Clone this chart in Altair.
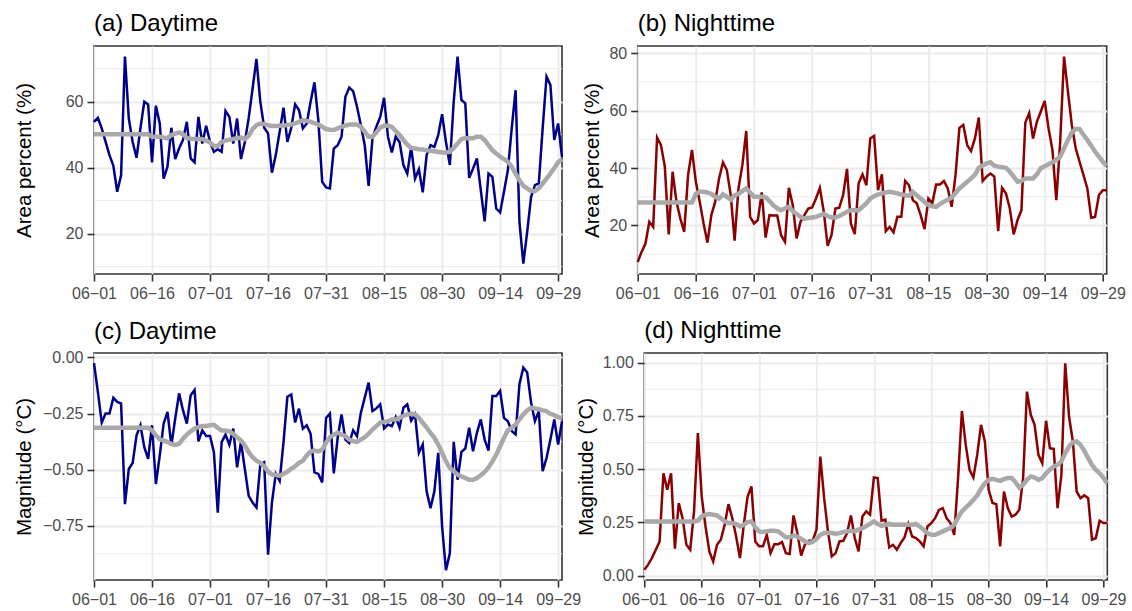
import altair as alt
import pandas as pd

# ---------------- data ----------------
START = "2021-06-01"
N_DAYS = 122
X_TICKS = [(6, 1), (6, 16), (7, 1), (7, 16), (7, 31), (8, 15), (8, 30), (9, 14), (9, 29)]
X_DOMAIN = [(6, 1), (9, 30)]

A_DAY = [53.9, 55.1, 51.9, 47.8, 43.8, 40.6, 32.7, 37.7, 73.7, 54.9,
         47.8, 43.0, 51.9, 60.0, 59.2, 41.6, 58.8, 53.4, 36.7, 40.3,
         52.1, 42.6, 45.8, 48.4, 53.9, 42.8, 41.6, 55.4, 47.3, 52.7,
         47.8, 44.8, 45.6, 44.8, 57.2, 55.4, 47.3, 54.9, 42.6, 47.8,
         55.1, 64.0, 73.0, 60.0, 52.1, 50.4, 38.5, 43.8, 50.9, 58.2,
         47.8, 52.1, 59.2, 57.5, 51.9, 53.4, 60.0, 65.9, 54.4, 35.7,
         34.0, 33.7, 45.8, 46.8, 49.4, 61.5, 64.3, 63.2, 58.5, 52.9,
         46.8, 34.5, 48.9, 52.4, 55.4, 61.2, 49.4, 44.6, 49.4, 47.8,
         40.8, 38.2, 46.3, 36.7, 39.5, 32.5, 43.8, 46.8, 46.3, 49.9,
         56.2, 47.8, 40.8, 60.0, 73.7, 60.5, 59.5, 36.9, 39.7, 42.8,
         33.2, 23.7, 38.2, 37.2, 27.6, 26.4, 32.7, 39.2, 51.9, 63.5,
         23.5, 10.9, 20.5, 31.1, 34.7, 35.2, 51.9, 67.6, 65.1, 48.4,
         53.4, 43.3]
A_SMOOTH = [50.1, 50.1, 50.1, 50.1, 50.1, 50.1, 50.1, 50.1, 50.1, 50.1,
            50.1, 50.1, 50.1, 50.1, 50.1, 49.4, 49.4, 49.4, 49.1, 48.9,
            49.9, 50.3, 50.7, 50.1, 49.0, 48.8, 48.7, 48.7, 48.7, 48.2,
            47.6, 46.6, 46.6, 47.8, 48.2, 48.5, 48.7, 48.9, 49.1, 48.7,
            49.7, 51.7, 52.9, 53.4, 53.2, 52.9, 52.6, 52.6, 52.7, 52.8,
            52.9, 53.1, 53.4, 53.9, 54.4, 54.2, 53.9, 53.5, 53.1, 52.4,
            51.7, 51.5, 51.4, 51.9, 52.4, 52.8, 53.1, 53.1, 53.1, 52.4,
            50.9, 49.4, 49.4, 50.7, 52.1, 52.7, 52.7, 52.4, 51.1, 49.9,
            48.4, 47.0, 46.0, 45.8, 45.6, 45.5, 45.3, 45.1, 45.0, 44.8,
            44.6, 44.6, 44.8, 46.0, 47.3, 48.7, 48.9, 48.9, 48.9, 49.4,
            49.4, 48.4, 46.8, 45.3, 44.3, 43.3, 42.6, 41.8, 40.3, 38.2,
            36.2, 34.5, 33.7, 32.9, 32.9, 33.7, 35.2, 36.7, 38.2, 39.9,
            41.6, 42.6]

B_NIGHT = [7.3, 10.8, 13.7, 21.3, 19.5, 50.6, 48.0, 40.5, 16.9, 38.7,
           28.3, 22.4, 17.8, 37.6, 46.3, 35.2, 28.3, 20.7, 14.0, 23.6,
           28.3, 36.4, 42.0, 39.3, 30.6, 14.7, 32.9, 41.0, 52.9, 23.0,
           20.7, 21.9, 31.5, 15.8, 23.6, 23.5, 23.5, 16.6, 14.3, 33.1,
           27.1, 15.5, 21.3, 23.6, 25.9, 26.3, 29.4, 33.1, 24.8, 12.9,
           16.6, 25.9, 26.2, 30.6, 39.7, 20.7, 17.0, 34.7, 37.8, 34.0,
           50.3, 51.2, 32.3, 37.8, 18.0, 19.5, 17.6, 23.0, 23.0, 35.5,
           34.0, 28.8, 27.7, 23.6, 18.7, 29.4, 27.7, 34.3, 34.3, 35.5,
           32.9, 26.5, 37.6, 54.0, 55.0, 48.0, 45.9, 50.3, 57.6, 35.5,
           37.0, 38.1, 37.0, 18.0, 33.1, 31.2, 25.9, 16.9, 21.9, 25.3,
           55.8, 59.1, 50.3, 56.2, 59.7, 63.4, 53.8, 46.3, 28.8, 49.2,
           78.8, 66.6, 55.0, 46.9, 42.2, 37.6, 32.9, 22.7, 23.0, 30.6,
           32.3, 32.3]
B_SMOOTH = [28.0, 28.0, 28.0, 28.0, 28.0, 28.0, 28.0, 28.0, 28.0, 28.0,
            28.0, 28.0, 28.0, 28.0, 28.0, 31.0, 31.7, 31.7, 31.5, 31.0,
            30.0, 29.4, 30.8, 30.0, 29.0, 30.5, 31.0, 32.0, 32.9, 31.5,
            30.0, 30.0, 30.0, 29.8, 28.5, 27.0, 26.0, 25.3, 26.0, 26.5,
            25.0, 24.0, 23.0, 22.4, 22.6, 22.8, 23.0, 23.5, 24.0, 23.3,
            22.8, 22.8, 23.3, 24.0, 24.8, 25.3, 25.3, 25.3, 26.5, 27.7,
            29.4, 30.2, 30.8, 31.2, 31.5, 31.7, 31.5, 31.2, 30.8, 30.5,
            30.3, 31.7, 30.5, 29.4, 28.2, 27.1, 26.7, 26.5, 27.4, 28.3,
            29.0, 29.7, 31.3, 32.9, 34.0, 35.2, 36.4, 37.6, 40.1, 40.9,
            41.6, 42.0, 40.8, 40.5, 40.3, 40.1, 38.7, 37.0, 35.2, 35.5,
            36.4, 36.4, 36.4, 37.8, 39.9, 40.6, 41.3, 42.0, 42.8, 44.0,
            46.9, 49.8, 52.4, 53.6, 53.6, 51.5, 49.8, 47.8, 45.7, 44.0,
            42.2, 40.8]

C_DAY = [-0.025, -0.153, -0.29, -0.25, -0.25, -0.18, -0.198, -0.205, -0.654, -0.497,
         -0.47, -0.347, -0.302, -0.40, -0.452, -0.302, -0.564, -0.437, -0.295, -0.243,
         -0.392, -0.272, -0.16, -0.235, -0.295, -0.168, -0.145, -0.374, -0.325, -0.35,
         -0.35, -0.422, -0.692, -0.377, -0.344, -0.389, -0.317, -0.49, -0.377, -0.497,
         -0.617, -0.647, -0.669, -0.475, -0.467, -0.879, -0.647, -0.519, -0.55, -0.377,
         -0.175, -0.165, -0.29, -0.228, -0.317, -0.302, -0.34, -0.512, -0.519, -0.557,
         -0.27, -0.25, -0.517, -0.358, -0.254, -0.366, -0.381, -0.325, -0.351, -0.246,
         -0.179, -0.112, -0.239, -0.227, -0.209, -0.316, -0.299, -0.306, -0.266, -0.313,
         -0.224, -0.209, -0.281, -0.254, -0.425, -0.388, -0.597, -0.672, -0.597, -0.425,
         -0.754, -0.948, -0.873, -0.376, -0.545, -0.421, -0.406, -0.313, -0.418, -0.336,
         -0.276, -0.366, -0.415, -0.172, -0.172, -0.149, -0.269, -0.284, -0.328, -0.343,
         -0.119, -0.045, -0.067, -0.201, -0.284, -0.239, -0.507, -0.448, -0.366, -0.276,
         -0.388, -0.284]
C_SMOOTH = [-0.313, -0.313, -0.313, -0.313, -0.313, -0.313, -0.313, -0.313, -0.313, -0.313,
            -0.313, -0.313, -0.313, -0.313, -0.313, -0.325, -0.347, -0.365, -0.37, -0.377,
            -0.385, -0.39, -0.385, -0.362, -0.344, -0.329, -0.317, -0.31, -0.305, -0.305,
            -0.302, -0.30, -0.314, -0.325, -0.325, -0.329, -0.34, -0.355, -0.37, -0.392,
            -0.422, -0.445, -0.46, -0.47, -0.485, -0.509, -0.522, -0.524, -0.527, -0.519,
            -0.509, -0.497, -0.485, -0.47, -0.46, -0.437, -0.419, -0.415, -0.419, -0.41,
            -0.38, -0.355, -0.345, -0.335, -0.343, -0.351, -0.366, -0.373, -0.376, -0.366,
            -0.355, -0.34, -0.321, -0.306, -0.29, -0.287, -0.284, -0.276, -0.276, -0.269,
            -0.261, -0.254, -0.251, -0.254, -0.269, -0.291, -0.313, -0.336, -0.358, -0.388,
            -0.425, -0.463, -0.493, -0.507, -0.522, -0.53, -0.537, -0.545, -0.545, -0.537,
            -0.525, -0.51, -0.49, -0.463, -0.433, -0.396, -0.358, -0.325, -0.313, -0.299,
            -0.276, -0.254, -0.236, -0.224, -0.227, -0.231, -0.236, -0.239, -0.251, -0.257,
            -0.266, -0.272]

D_NIGHT = [0.028, 0.052, 0.083, 0.122, 0.161, 0.481, 0.403, 0.481, 0.127, 0.341,
           0.27, 0.145, 0.122, 0.302, 0.669, 0.372, 0.231, 0.114, 0.067, 0.145,
           0.169, 0.239, 0.336, 0.27, 0.184, 0.083, 0.239, 0.372, 0.419, 0.161,
           0.138, 0.138, 0.192, 0.106, 0.148, 0.148, 0.158, 0.106, 0.102, 0.283,
           0.20, 0.095, 0.148, 0.164, 0.164, 0.216, 0.559, 0.364, 0.208, 0.091,
           0.106, 0.161, 0.164, 0.20, 0.283, 0.177, 0.114, 0.278, 0.302, 0.286,
           0.461, 0.458, 0.258, 0.263, 0.133, 0.145, 0.122, 0.153, 0.18, 0.242,
           0.184, 0.177, 0.161, 0.138, 0.231, 0.247, 0.27, 0.309, 0.317, 0.27,
           0.247, 0.192, 0.458, 0.773, 0.614, 0.497, 0.461, 0.567, 0.708, 0.63,
           0.403, 0.341, 0.336, 0.138, 0.395, 0.317, 0.278, 0.286, 0.309, 0.458,
           0.864, 0.755, 0.708, 0.567, 0.528, 0.727, 0.598, 0.595, 0.317, 0.473,
           0.997, 0.747, 0.63, 0.395, 0.364, 0.377, 0.364, 0.169, 0.177, 0.258,
           0.247, 0.247]
D_SMOOTH = [0.255, 0.255, 0.255, 0.255, 0.255, 0.255, 0.255, 0.255, 0.255, 0.255,
            0.255, 0.255, 0.255, 0.255, 0.258, 0.278, 0.286, 0.289, 0.286, 0.283,
            0.27, 0.255, 0.247, 0.247, 0.242, 0.231, 0.239, 0.252, 0.255, 0.227,
            0.208, 0.205, 0.208, 0.211, 0.211, 0.208, 0.195, 0.18, 0.18, 0.189,
            0.184, 0.173, 0.161, 0.153, 0.158, 0.173, 0.192, 0.20, 0.20, 0.20,
            0.197, 0.20, 0.205, 0.208, 0.211, 0.208, 0.216, 0.223, 0.233, 0.243,
            0.255, 0.242, 0.234, 0.239, 0.242, 0.239, 0.239, 0.239, 0.239, 0.239,
            0.239, 0.242, 0.231, 0.216, 0.20, 0.192, 0.192, 0.20, 0.208, 0.216,
            0.223, 0.239, 0.273, 0.302, 0.32, 0.336, 0.356, 0.377, 0.408, 0.434,
            0.45, 0.455, 0.45, 0.445, 0.453, 0.458, 0.458, 0.439, 0.414, 0.427,
            0.45, 0.466, 0.461, 0.45, 0.458, 0.481, 0.497, 0.513, 0.52, 0.536,
            0.575, 0.606, 0.627, 0.63, 0.614, 0.586, 0.552, 0.52, 0.497, 0.481,
            0.458, 0.434]

TITLES = ["(a) Daytime", "(b) Nighttime", "(c) Daytime", "(d) Nighttime"]
Y_TITLES = ["Area percent (%)", "Magnitude (\u00b0C)"]

A_TICKS, A_MINOR = [20, 40, 60], [10, 30, 50, 70]
B_TICKS, B_MINOR = [20, 40, 60, 80], [10, 30, 50, 70]
C_TICKS, C_MINOR = [0.0, -0.25, -0.5, -0.75], [-0.125, -0.375, -0.625, -0.875]
D_TICKS, D_MINOR = [0.0, 0.25, 0.5, 0.75, 1.0], [0.125, 0.375, 0.625, 0.875]

# ---------------- chart ----------------
FONT = "Liberation Sans"
BLUE = "#00008B"
RED = "#8B0000"
GRAY = "#A9A9A9"

dates = pd.date_range(START, periods=N_DAYS, freq="D")


def dt(m, d):
    return alt.DateTime(year=2021, month=m, date=d)


def panel(vals, smooth, color, title, ytitle, ydom, ymajor, yminor, fmt, w, h, ext, tpad,
          toff=10):
    df = pd.DataFrame({"date": dates, "value": vals, "smooth": smooth})
    xenc = alt.X(
        "date:T", title=None,
        scale=alt.Scale(domain=[dt(*X_DOMAIN[0]), dt(*X_DOMAIN[1])]),
        axis=alt.Axis(values=[dt(m, d) for m, d in X_TICKS], format="%m\u2212%d",
                      labelFlush=False, labelOverlap=False, grid=True,
                      tickSize=7, labelPadding=4),
    )
    yscale = alt.Scale(domain=ydom, nice=False, zero=False)
    yaxis = alt.Axis(values=ymajor, format=fmt, title=ytitle, grid=True,
                     minExtent=ext, maxExtent=ext, titlePadding=tpad,
                     labelPadding=4, tickSize=7)
    minor = alt.Chart(pd.DataFrame({"value": yminor})).mark_rule(
        color="#EBEBEB", strokeWidth=1
    ).encode(y=alt.Y("value:Q", scale=yscale, axis=yaxis))
    line = alt.Chart(df).mark_line(color=color, strokeWidth=2.5).encode(
        x=xenc, y=alt.Y("value:Q", scale=yscale, axis=yaxis))
    sm = alt.Chart(df).mark_line(color=GRAY, strokeWidth=4.5).encode(
        x=xenc, y=alt.Y("smooth:Q", scale=yscale, axis=yaxis))
    return alt.layer(minor, line, sm).properties(
        width=w, height=h, title=alt.TitleParams(text=title, offset=toff))


pa = panel(A_DAY, A_SMOOTH, BLUE, TITLES[0], Y_TITLES[0], [7.75, 76.9], A_TICKS, A_MINOR, "d",
           468, 228, 54.7, 5)
pb = panel(B_NIGHT, B_SMOOTH, RED, TITLES[1], Y_TITLES[0], [3.1, 82.5], B_TICKS, B_MINOR, "d",
           469, 228, 30.7, 5, toff=9.5)
pc = panel(C_DAY, C_SMOOTH, BLUE, TITLES[2], Y_TITLES[1], [-0.992, 0.02], C_TICKS, C_MINOR, ".2f",
           468, 227, 54.7, 5, toff=5.8)
pd_ = panel(D_NIGHT, D_SMOOTH, RED, TITLES[3], Y_TITLES[1], [-0.02, 1.045], D_TICKS, D_MINOR, ".2f",
            463, 227, 43, 5)

top = alt.hconcat(pa, pb, spacing=75.7, bounds="flush")
bottom = alt.hconcat(pc, pd_, spacing=82.3, bounds="flush")

chart = alt.vconcat(top, bottom, spacing=16, bounds="full").properties(
    padding={"left": 13, "top": 10, "right": 0, "bottom": 0}
).configure(font=FONT).configure_view(
    stroke="#333333", strokeWidth=1.6
).configure_axis(
    domain=False, tickColor="#333333", tickWidth=1.6,
    labelColor="#4D4D4D", labelFontSize=16, labelFont=FONT,
    titleFont=FONT, titleFontSize=20.5, titleFontWeight="normal", titleColor="black",
    gridColor="#EBEBEB", gridWidth=1.8,
).configure_title(
    font=FONT, fontSize=24, fontWeight="normal", anchor="start", color="black",
    offset=10, frame="group",
)

chart.save("out.html", embed_options={"renderer": "svg", "actions": False})
